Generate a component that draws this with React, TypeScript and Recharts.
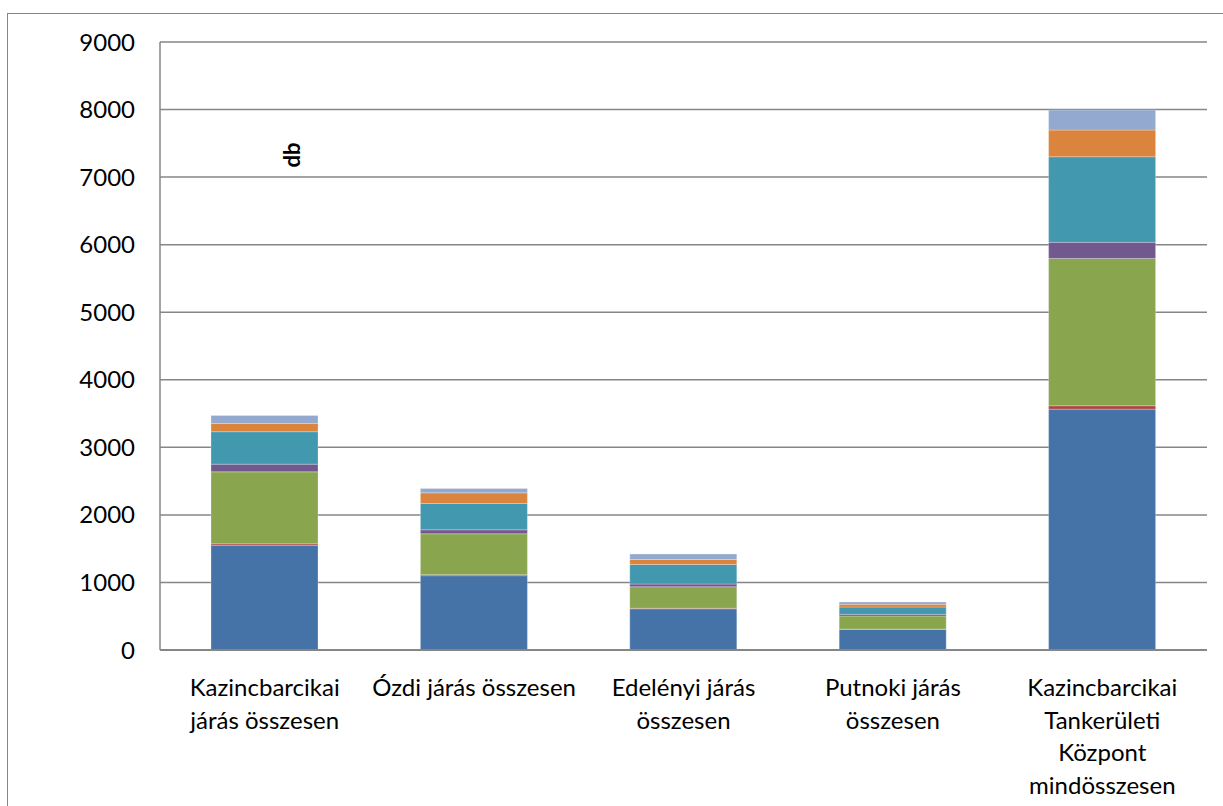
import React from "react";
import { BarChart, Bar, XAxis, YAxis, CartesianGrid } from "recharts";

const categories = [
  "Kazincbarcikai\njárás összesen",
  "Ózdi járás összesen",
  "Edelényi járás\nösszesen",
  "Putnoki járás\nösszesen",
  "Kazincbarcikai\nTankerületi\nKözpont\nmindösszesen",
];

const s1 = [1550, 1100, 610, 305, 3565];
const s2 = [22, 15, 8, 5, 50];
const s3 = [1065, 605, 318, 193, 2181];
const s4 = [114, 59, 40, 25, 238];
const s5 = [480, 389, 290, 108, 1267];
const s6 = [123, 158, 74, 40, 395];
const s7 = [118, 64, 80, 34, 296];

const yTicks = [0, 1000, 2000, 3000, 4000, 5000, 6000, 7000, 8000, 9000];

const seriesColors = ["#4572A7", "#AA4643", "#89A54E", "#71588F", "#4198AF", "#DB843D", "#93A9CF"];
const seriesValues = [s1, s2, s3, s4, s5, s6, s7];

const data = categories.map((name, i) => {
  const row: Record<string, string | number> = { name };
  seriesValues.forEach((vals, k) => {
    row["s" + (k + 1)] = vals[i];
  });
  return row;
});

const FONT = "Lato, 'Open Sans', sans-serif";

function CategoryTick(props: any) {
  const { x, y, payload } = props;
  const lines = String(payload.value).split("\n");
  return (
    <text x={x} y={y} textAnchor="middle" fill="#000" fontFamily={FONT} fontSize={24}>
      {lines.map((ln, i) => (
        <tspan key={i} x={x} dy={i === 0 ? 44 : 32.5}>
          {ln}
        </tspan>
      ))}
    </text>
  );
}

export default function App() {
  return (
    <div
      style={{
        position: "fixed", left: 0, top: 0, width: 1223, height: 806,
        overflow: "hidden", background: "#fff",
      }}
    >
      <div
        style={{
          position: "absolute", left: 7, top: 13, width: 1240, height: 830,
          border: "1.5px solid #868686",
        }}
      />
      <div style={{ position: "absolute", left: 0, top: 0 }}>
        <BarChart
          width={1223}
          height={806}
          data={data}
          margin={{ top: 42, right: 16, left: 0, bottom: 0 }}
          barSize={107}
        >
          <CartesianGrid vertical={false} stroke="#868686" strokeWidth={1.5} />
          <XAxis
            dataKey="name"
            height={156}
            tickLine={false}
            tickSize={0}
            axisLine={{ stroke: "#868686", strokeWidth: 2 }}
            tick={<CategoryTick />}
            interval={0}
          />
          <YAxis
            width={160}
            domain={[0, 9000]}
            ticks={yTicks}
            tickLine={false}
            tickSize={0}
            tickMargin={25}
            axisLine={{ stroke: "#868686", strokeWidth: 1.5 }}
            tick={{ fill: "#000", fontFamily: FONT, fontSize: 24 }}
          />
          {seriesColors.map((c, k) => (
            <Bar
              key={k}
              dataKey={"s" + (k + 1)}
              stackId="a"
              fill={c}
              stroke="rgba(255,255,255,0.25)"
              strokeWidth={1}
              isAnimationActive={false}
            />
          ))}
        </BarChart>
      </div>
      <div
        style={{
          position: "absolute", left: 291, top: 155,
          transform: "translate(-50%, -50%) rotate(-90deg)",
          fontFamily: FONT, fontWeight: "bold", fontSize: 22, color: "#000",
          whiteSpace: "nowrap",
        }}
      >
        db
      </div>
    </div>
  );
}
